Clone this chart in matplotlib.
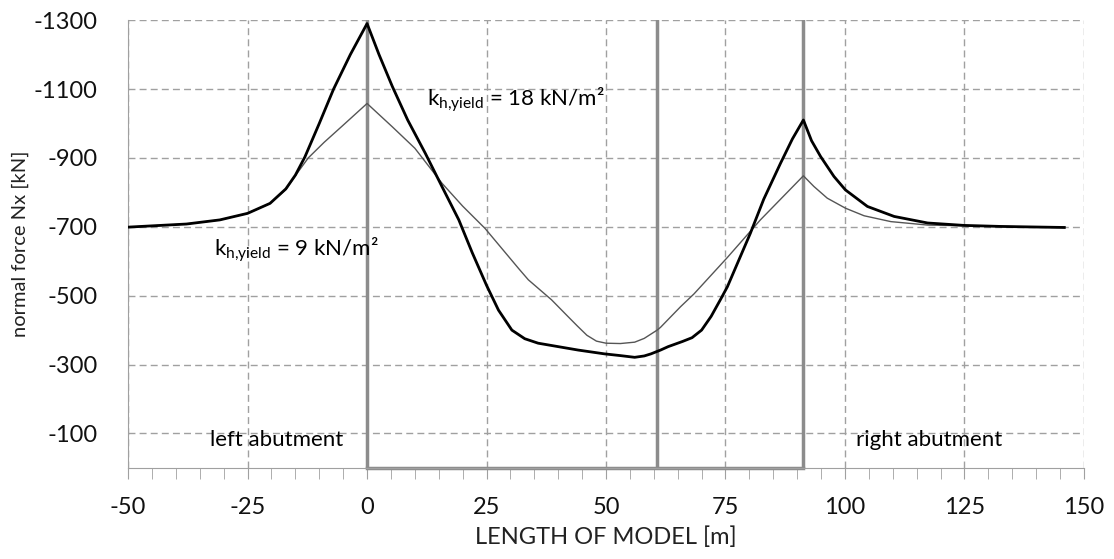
import matplotlib.pyplot as plt
from matplotlib.ticker import MultipleLocator

plt.rcParams['font.family'] = ['Lato', 'DejaVu Sans']
plt.rcParams['mathtext.fontset'] = 'custom'
plt.rcParams['mathtext.rm'] = 'Lato'
plt.rcParams['axes.unicode_minus'] = False

# ---- data ----
# k_h,yield = 18 kN/m2 (thick line)
x_18 = [-50, -37.8, -30.8, -25, -20.3, -17, -15, -13, -10, -7, -3.5, 0,
        2.5, 5.3, 8.5, 12.2, 15.7, 19.2, 22, 25, 27.5, 30.3, 33, 35.8, 40,
        44.2, 49.7, 53, 56, 58, 59.4, 61.4, 63, 66, 68, 70, 72, 74,
        75.4, 78, 80.2, 83, 86.5, 89, 91.3, 93, 94.9, 97.7, 100.1, 104.7,
        110.3, 117.3, 124.9, 132.6, 145.9]
n_18 = [-699, -708, -720, -739, -768, -810, -850, -903, -1000, -1100, -1200,
        -1290, -1200, -1107, -1010, -913, -816, -720, -625, -530, -458, -400,
        -375, -362, -352, -342, -331, -326, -321, -325, -331, -342, -352,
        -367, -378, -400, -440, -490, -526, -610, -681, -780, -884, -955,
        -1010, -950, -904, -846, -807, -759, -730, -711, -704, -701, -698]

# k_h,yield = 9 kN/m2 (thin line)
x_9 = [-50, -37.8, -30.8, -25, -20.3, -17, -14.5, -12.3, -9, -5, 0, 5.3, 10,
       15.7, 20, 24.7, 31.7, 33.75, 38.6, 42, 44, 46, 48, 50, 53, 56, 58,
       60.7, 61.4, 65.6, 68.4, 75.4, 82.3, 91.3, 93.5, 96.3, 100.1, 104,
       109.6, 117.3, 124.9, 132.6, 145.9]
n_9 = [-699, -708, -720, -739, -768, -808, -858, -900, -945, -995, -1058,
       -990, -928, -826, -760, -695, -579, -546, -488, -440, -412, -385,
       -368, -362, -361, -365, -376, -400, -408, -468, -505, -611, -720,
       -848, -817, -783, -754, -732, -715, -705, -703, -701, -698]

# supports / abutments
x_supports = [0, 60.7, 91.3]

x_ticks = [-50, -25, 0, 25, 50, 75, 100, 125, 150]
y_ticks = [-1300, -1100, -900, -700, -500, -300, -100]

# ---- figure ----
fig = plt.figure(figsize=(11.14, 5.59), dpi=100)
ax = fig.add_axes([0.115, 0.163, 0.858, 0.801])

ax.set_xlim(-50, 150)
ax.set_ylim(0, -1300)

ax.grid(True, which='major', color='#a0a0a0', linestyle=(0, (5, 3)), linewidth=1)
ax.set_axisbelow(True)

for xs in x_supports:
    ax.axvline(xs, color='#8c8c8c', linewidth=2.5, zorder=2)
ax.plot([x_supports[0], x_supports[-1]], [0, 0], color='#8c8c8c',
        linewidth=2.5, clip_on=False, zorder=2)

ax.plot(x_9, n_9, color='#555555', linewidth=1.0, zorder=3)
ax.plot(x_18, n_18, color='black', linewidth=2.0, zorder=4)

ax.set_xticks(x_ticks)
ax.set_yticks(y_ticks)
ax.xaxis.set_minor_locator(MultipleLocator(5))
ax.tick_params(axis='x', which='both', direction='out', length=8,
               color='#a0a0a0', labelsize=17, pad=13, labelcolor='#111111')
ax.tick_params(axis='y', length=0, labelsize=17, pad=22, labelcolor='#111111')

for s in ['top', 'right']:
    ax.spines[s].set_visible(False)
for s in ['left', 'bottom']:
    ax.spines[s].set_color('#a0a0a0')

ax.set_xlabel('LENGTH OF MODEL [m]', fontsize=17, color='#222222', labelpad=6)
ax.set_ylabel('normal force Nx [kN]', fontsize=14.5, color='#222222', labelpad=3)

ax.text(-19, -80, 'left abutment', fontsize=16, ha='center', va='center')
ax.text(117.7, -80, 'right abutment', fontsize=16, ha='center', va='center')
ax.text(12.6, -1068, r'$\mathregular{k_{h{,}yield}}$ = 18 kN/m²', fontsize=16,
        ha='left', va='center')
ax.text(-32, -633, r'$\mathregular{k_{h{,}yield}}$ = 9 kN/m²', fontsize=16,
        ha='left', va='center')

fig.savefig('out.png', dpi=100)
